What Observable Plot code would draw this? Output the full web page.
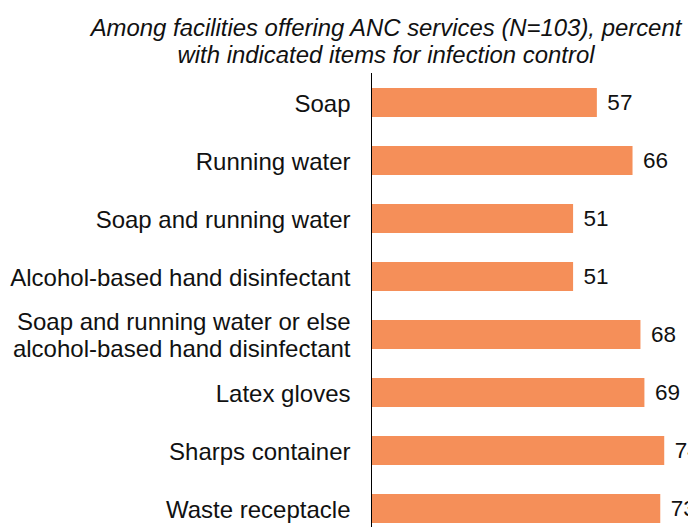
<!DOCTYPE html>
<html>
<head>
<meta charset="utf-8">
<script src="https://cdn.jsdelivr.net/npm/d3@7"></script>
<script src="https://cdn.jsdelivr.net/npm/@observablehq/plot@0.6"></script>
<style>
  html, body { margin: 0; padding: 0; background: #fff; overflow: hidden; }
  body { width: 688px; height: 527px; font-family: "Liberation Sans", Arial, sans-serif; }
  #title { height: 56px; margin-top: 14px; width: 600px; margin-left: 86px; text-align: center;
           font-style: italic; font-size: 23.9px; line-height: 27px; color: #111; white-space: nowrap; }
</style>
</head>
<body>
<div id="title">Among facilities offering ANC services (N=103), percent<br>with indicated items for infection control</div>
<div id="chart"></div>
<script>
const categories = [
  "Soap",
  "Running water",
  "Soap and running water",
  "Alcohol-based hand disinfectant",
  "Soap and running water or else alcohol-based hand disinfectant",
  "Latex gloves",
  "Sharps container",
  "Waste receptacle"
];
const tickLabels = [
  "Soap",
  "Running water",
  "Soap and running water",
  "Alcohol-based hand disinfectant",
  "Soap and running water or else\nalcohol-based hand disinfectant",
  "Latex gloves",
  "Sharps container",
  "Waste receptacle"
];
const values = [57, 66, 51, 51, 68, 69, 74, 73];

const data = categories.map((c, i) => ({category: c, value: values[i]}));
const labelOf = new Map(categories.map((c, i) => [c, tickLabels[i]]));

const chart = Plot.plot({
  width: 688,
  height: 467,
  marginTop: 3,
  marginBottom: 0,
  marginLeft: 371,
  marginRight: 0,
  style: {fontFamily: "Liberation Sans, Arial, sans-serif", fontSize: "24px", color: "#111", overflow: "visible"},
  x: {domain: [0, 80], axis: null},
  y: {domain: categories, paddingInner: 0.5, paddingOuter: 0.25, label: null},
  marks: [
    Plot.barX(data, {x: "value", y: "category", fill: "#F58F59"}),
    Plot.ruleX([0], {stroke: "#000", strokeWidth: 1}),
    Plot.text(data, {x: "value", y: "category", text: d => String(d.value), textAnchor: "start", dx: 10, fontSize: 22.5, fill: "#111"}),
    Plot.axisY({tickSize: 0, tickPadding: 21, fontSize: 24, lineHeight: 1.13, tickFormat: d => labelOf.get(d), label: null})
  ]
});
document.getElementById("chart").appendChild(chart);
</script>
</body>
</html>
